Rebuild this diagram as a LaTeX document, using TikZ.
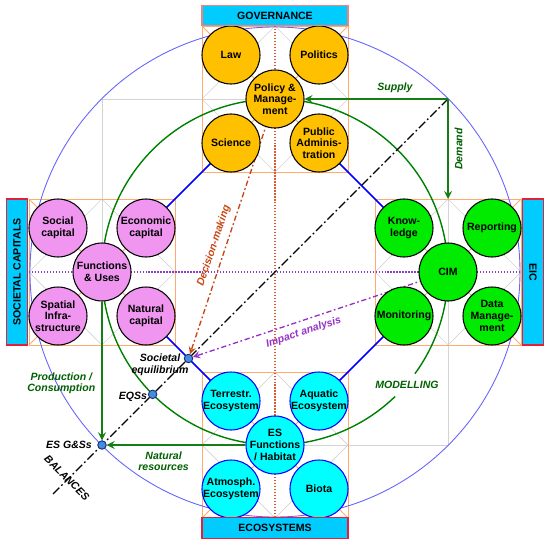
\documentclass[tikz,border=0pt]{standalone}
\usepackage{fontspec}
\setmainfont{Liberation Sans}
\usetikzlibrary{positioning,arrows}
\pgfdeclarelayer{bg}
\pgfsetlayers{bg,main}
\newcommand{\lbfont}{\fontsize{6}{6.6}\selectfont\bfseries}

\begin{document}
\begin{tikzpicture}[
		bub/.style={circle, draw=black, line width=0.6pt, minimum size=1.16cm, inner sep=-2pt, align=center, font=\lbfont},
		gov/.style={bub, fill=govfill},
		soc/.style={bub, fill=socfill},
		eic/.style={bub, fill=eicfill},
		eco/.style={bub, fill=ecofill, draw=blue},
		bar/.style={draw=barred, line width=0.8pt, fill=barcyan, minimum width=2.92cm, minimum height=0.41cm, inner sep=0pt, font=\lbfont},
		pt/.style={circle, draw=ptdraw, line width=0.5pt, fill=ptfill, minimum size=0.17cm, inner sep=0pt},
		flow/.style={draw=flowgreen, line width=1pt, ->, >=stealth},
		note/.style={font=\lbfont\itshape, align=center},
		guide/.style={draw=guidegray, line width=0.4pt},
		frame/.style={draw=boxorange, line width=0.5pt},
		link/.style={draw=blue, line width=0.9pt}
	]
	\definecolor{govfill}{RGB}{255,192,0}
	\definecolor{socfill}{RGB}{240,150,240}
	\definecolor{eicfill}{RGB}{0,235,0}
	\definecolor{ecofill}{RGB}{0,255,255}
	\definecolor{barcyan}{RGB}{0,204,255}
	\definecolor{barred}{RGB}{230,30,60}
	\definecolor{govred}{RGB}{240,130,130}
	\definecolor{boxorange}{RGB}{255,170,110}
	\definecolor{guidegray}{RGB}{212,212,212}
	\definecolor{ringblue}{RGB}{100,100,255}
	\definecolor{ringgreen}{RGB}{0,128,0}
	\definecolor{flowgreen}{RGB}{20,125,20}
	\definecolor{labgreen}{RGB}{0,96,0}
	\definecolor{decide}{RGB}{200,70,20}
	\definecolor{impact}{RGB}{150,50,200}
	\definecolor{axisorange}{RGB}{220,90,50}
	\definecolor{axispurple}{RGB}{140,60,200}
	\definecolor{ptfill}{RGB}{70,140,220}
	\definecolor{ptdraw}{RGB}{20,40,120}
	\useasboundingbox (-5.5,-5.44) rectangle (5.5,5.44);
	% governance
	\node[gov] (law) at (-0.88,4.34) {Law};
	\node[gov] (politics) at (0.88,4.34) {Politics};
	\node[gov] (science) at (-0.88,2.58) {Science};
	\node[gov] (pubadm) at (0.88,2.58) {Public\\Adminis-\\tration};
	\node[gov] (policy) at (0,3.46) {Policy \&\\Manage-\\ment};
	% societal capitals
	\node[soc] (social) at (-4.34,0.88) {Social\\capital};
	\node[soc] (economic) at (-2.58,0.88) {Economic\\capital};
	\node[soc] (spatial) at (-4.34,-0.88) {Spatial\\Infra-\\structure};
	\node[soc] (natural) at (-2.58,-0.88) {Natural\\capital};
	\node[soc] (funcuse) at (-3.46,0) {Functions\\\& Uses};
	% eic
	\node[eic] (knowledge) at (2.58,0.88) {Know-\\ledge};
	\node[eic] (reporting) at (4.34,0.88) {Reporting};
	\node[eic] (monitoring) at (2.58,-0.88) {Monitoring};
	\node[eic] (datamgmt) at (4.34,-0.88) {Data\\Manage-\\ment};
	\node[eic] (cim) at (3.46,0) {CIM};
	% ecosystems
	\node[eco] (terrestr) at (-0.88,-2.58) {Terrestr.\\Ecosystem};
	\node[eco] (aquatic) at (0.88,-2.58) {Aquatic\\Ecosystem};
	\node[eco] (atmosph) at (-0.88,-4.34) {Atmosph.\\Ecosystem};
	\node[eco] (biota) at (0.88,-4.34) {Biota};
	\node[eco] (esfunc) at (0,-3.46) {ES\\Functions\\/ Habitat};
	% balance points
	\node[pt] (se) at (-1.73,-1.73) {};
	\node[pt] (eqs) at (-2.447,-2.447) {};
	\node[pt] (esgs) at (-3.46,-3.46) {};
	\coordinate (sd) at (3.46,3.46);
	\coordinate (baltail) at (-4.45,-4.45);
	\coordinate (eictop) at (3.46,1.46);
	\begin{pgfonlayer}{bg}
		\draw[guide] (-3.46,-3.46) rectangle (3.46,3.46);
		\foreach \cx/\cy in {0/3.46,-3.46/0,3.46/0,0/-3.46} {
			\draw[guide] (\cx,\cy+1.46) -- (\cx+1.46,\cy) -- (\cx,\cy-1.46) -- (\cx-1.46,\cy) -- cycle;
			\draw[frame] (\cx-1.46,\cy-1.46) rectangle (\cx+1.46,\cy+1.46);
			\draw[frame] (\cx-1.46,\cy-1.46) -- (\cx+1.46,\cy+1.46) (\cx-1.46,\cy+1.46) -- (\cx+1.46,\cy-1.46);
		}
		\draw[ringblue, line width=0.5pt] (0,0) circle (4.9);
		\draw[ringgreen, line width=0.8pt] (-36:3.46) arc (-36:314:3.46);
		\draw[axisorange, densely dotted, line width=0.7pt] (0,4.92) -- (0,-4.92);
		\draw[axispurple, densely dotted, line width=0.7pt] (-4.92,0) -- (4.92,0);
		\draw[link] (science.center) -- (economic.center);
		\draw[link] (natural.center) -- (terrestr.center);
		\draw[link] (aquatic.center) -- (monitoring.center);
		\draw[link] (knowledge.center) -- (pubadm.center);
		\draw[line width=0.8pt, dash pattern=on 5pt off 1.6pt on 1pt off 1.6pt] (sd) -- (baltail);
		\draw[decide, line width=0.8pt, dash pattern=on 3pt off 1.5pt on 1pt off 1.5pt, ->, >=stealth] (policy.center) -- node[note, text=decide, sloped, above, pos=0.59] {Decision-making} (se);
		\draw[impact, line width=0.8pt, dash pattern=on 3pt off 1.5pt on 1pt off 1.5pt, ->, >=stealth] (cim.center) -- node[note, text=impact, sloped, below, pos=0.58] {Impact analysis} (se);
	\end{pgfonlayer}
	% flows
	\draw[flow] (sd) -- node[note, text=labgreen, above, pos=0.37] {Supply} (policy);
	\draw[flow] (sd) -- node[note, text=labgreen, rotate=90, anchor=north, pos=0.5] {Demand} (eictop);
	\draw[flow] (funcuse) -- node[note, text=labgreen, left, pos=0.59] {Production /\\Consumption} (esgs);
	\draw[flow] (esfunc) -- node[note, text=labgreen, below, pos=0.59] {Natural\\resources} (esgs);
	% labels
	\node[note] (selab) at (-2.3,-1.86) {Societal\\equilibrium};
	\node[note] (eqslab) at (-2.84,-2.5) {EQSs};
	\node[note] (esgslab) at (-4.12,-3.46) {ES G\&Ss};
	\node[note, rotate=-45] (ballab) at (-4.16,-4.12) {BALANCES};
	\node[note, text=labgreen] (modlab) at (2.64,-2.26) {MODELLING};
	% bars
	\node[bar, draw=govred] (govbar) at (0,5.13) {GOVERNANCE};
	\node[bar] (ecobar) at (0,-5.12) {ECOSYSTEMS};
	\node[bar, rotate=90] (socbar) at (-5.16,0) {SOCIETAL CAPITALS};
	\node[bar, rotate=-90] (eicbar) at (5.16,0) {EIC};
\end{tikzpicture}
\end{document}
